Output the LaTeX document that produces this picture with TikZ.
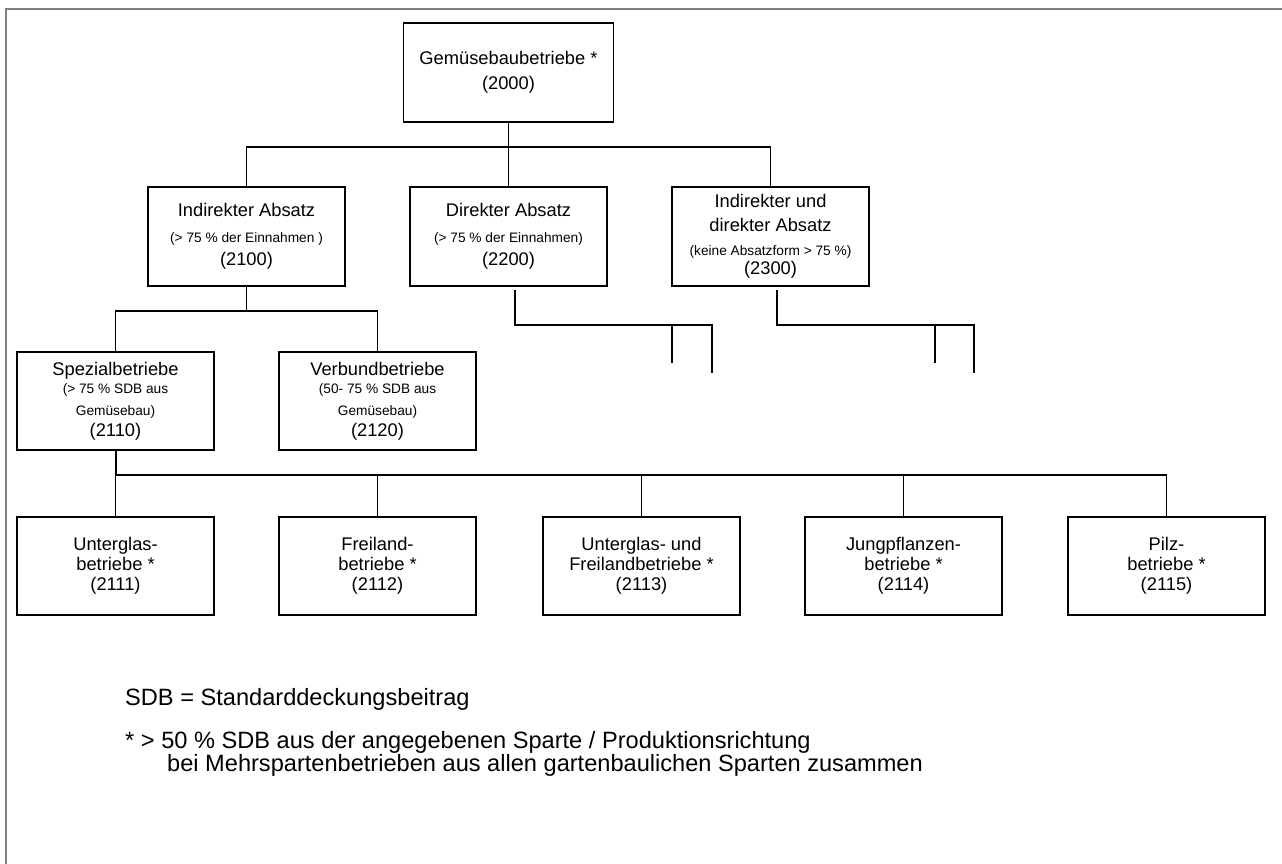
\documentclass[tikz,border=0pt]{standalone}
\usepackage{fontspec}
\setmainfont{Liberation Sans}
\usetikzlibrary{calc}
\definecolor{framegray}{RGB}{128,128,128}
\newcommand\smtxt{\fontsize{13.7}{16}\selectfont}
\begin{document}
\begin{tikzpicture}[x=1pt,y=-1pt,
  box/.style={draw=black, line width=1.2pt, minimum width=197pt, minimum height=98pt,
              inner sep=0pt, align=center, font=\fontsize{18.3}{20}\selectfont},
  conn/.style={draw=black, line width=1.2pt},
  busline/.style={draw=black, line width=2pt},
  legend/.style={inner sep=0pt, font=\fontsize{23.6}{21}\selectfont, anchor=base west, align=left},
  frameline/.style={draw=framegray, line width=2pt}]
\useasboundingbox (0,0) rectangle (1282,864);
\fill[white] (0,0) rectangle (1282,864);
% frame
\draw[frameline] (5,9) -- (1282,9);
\draw[frameline] (6,8) -- (6,864);
% level 1
\node[box, minimum width=210pt, minimum height=99pt] (n2000) at (508.5,72.5)
  {Gemüsebaubetriebe *\\[4.5pt](2000)};
% level 2
\node[box, minimum height=99pt] (n2100) at (246.5,236.5)
  {Indirekter Absatz\\[6pt]{\smtxt (> 75 \% der Einnahmen )}\\[3pt](2100)};
\node[box, minimum height=99pt] (n2200) at (508.5,236.5)
  {Direkter Absatz\\[6pt]{\smtxt (> 75 \% der Einnahmen)}\\[3pt](2200)};
\node[box, minimum height=99pt] (n2300) at (770.5,236.5)
  {Indirekter und\\[4pt]direkter Absatz\\[4pt]{\smtxt (keine Absatzform > 75 \%)}\\[-1pt](2300)};
% level 3
\node[box] (n2110) at (115.5,401)
  {Spezialbetriebe\\[-2pt]{\smtxt (> 75 \% SDB aus}\\[2pt]{\smtxt Gemüsebau)}\\[1pt](2110)};
\node[box] (n2120) at (377.5,401)
  {Verbundbetriebe\\[-2pt]{\smtxt (50- 75 \% SDB aus}\\[2pt]{\smtxt Gemüsebau)}\\[1pt](2120)};
% level 4
\node[box] (n2111) at (115.5,566) {Unterglas-\\betriebe *\\(2111)};
\node[box] (n2112) at (377.5,566) {Freiland-\\betriebe *\\(2112)};
\node[box] (n2113) at (641.5,566) {Unterglas- und\\Freilandbetriebe *\\(2113)};
\node[box] (n2114) at (903.5,566) {Jungpflanzen-\\betriebe *\\(2114)};
\node[box] (n2115) at (1166.5,566) {Pilz-\\betriebe *\\(2115)};
% connectors
\coordinate (b1) at (508.5,147);
\draw[conn] (n2000.south) -- (n2200.north);
\draw[conn] (n2100.north) |- (b1) -| (n2300.north);
\coordinate (b2) at (246.5,311);
\draw[conn] (n2100.south) -- (b2);
\draw[conn] (n2110.north) |- (b2) -| (n2120.north);
\coordinate (b4) at (115.5,474.5);
\draw[busline] (n2110.south) -- (b4) -- (b4 -| n2115.north);
\foreach \k in {2111,2112,2113,2114,2115}
  \draw[conn] (b4 -| n\k.north) -- (n\k.north);
% dangling lines below 2200
\coordinate (d2s) at (515,290);
\coordinate (d2c) at (712,325);
\coordinate (d2e) at (712,373);
\coordinate (d2m) at (672,363);
\draw[conn] (d2s) |- (d2c) -- (d2e);
\draw[conn] (d2m) -- (d2m |- d2c);
% dangling lines below 2300
\coordinate (d3s) at (777,290);
\coordinate (d3c) at (974,325);
\coordinate (d3e) at (974,373);
\coordinate (d3m) at (935,363);
\draw[conn] (d3s) |- (d3c) -- (d3e);
\draw[conn] (d3m) -- (d3m |- d3c);
% legend
\node[legend] (sdb) at (125,705) {SDB = Standarddeckungsbeitrag};
\node[legend] (star) at (125,771)
  {* > 50 \% SDB aus der angegebenen Sparte / Produktionsrichtung\\
   \hspace*{42pt}bei Mehrspartenbetrieben aus allen gartenbaulichen Sparten zusammen};
\end{tikzpicture}
\end{document}
